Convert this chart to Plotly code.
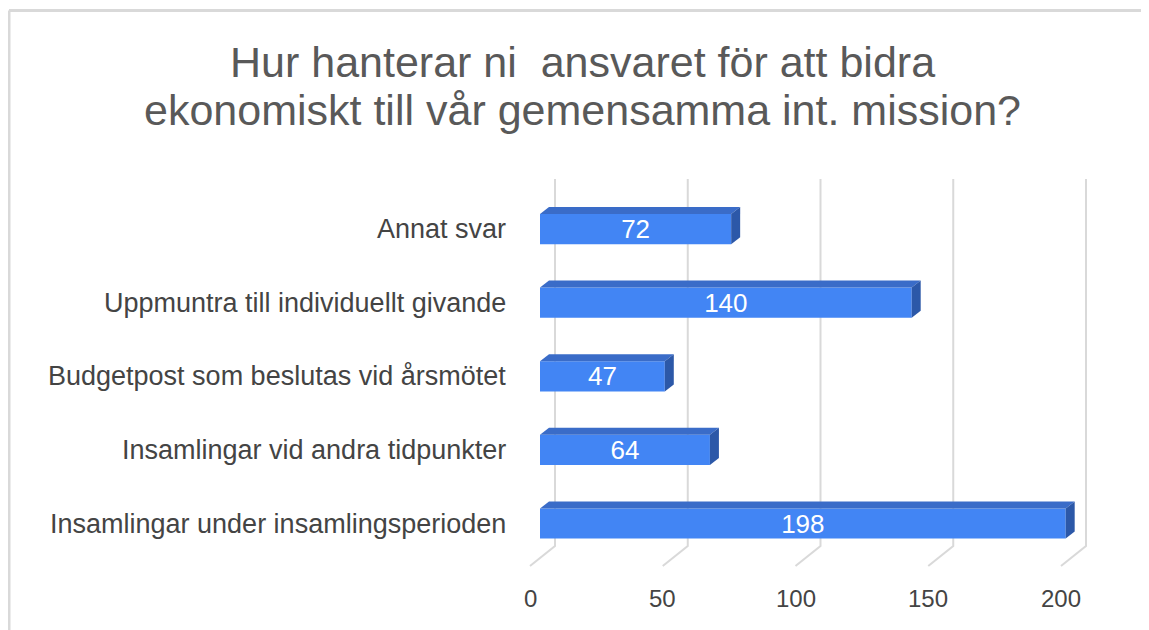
import plotly.graph_objects as go

categories = [
    "Insamlingar under insamlingsperioden",
    "Insamlingar vid andra tidpunkter",
    "Budgetpost som beslutas vid årsmötet",
    "Uppmuntra till individuellt givande",
    "Annat svar",
]
values = [198, 64, 47, 140, 72]
x_ticks = [0, 50, 100, 150, 200]
title_lines = [
    "Hur hanterar ni  ansvaret för att bidra",
    "ekonomiskt till vår gemensamma int. mission?",
]

OFF = 8  # page body margin; figure is shrunk so nothing overflows the window
W, H = 1149 - OFF, 630 - OFF

# pixel geometry of the pseudo-3D chart (figure coords)
PX0, PX_PER = 540.0 - OFF, 2.655      # bar plane: value 0
PY0, PY_PER = 523.5 - OFF, 73.6       # category 0 centre
X_LO, X_HI = -PX0 / PX_PER, (W - PX0) / PX_PER
Y_LO, Y_HI = (PY0 - H) / PY_PER, PY0 / PY_PER

BACK_DX = 15 / PX_PER
FRONT_DX = -10 / PX_PER
GRID_TOP = (PY0 - (179 - OFF)) / PY_PER
GRID_BACK = (PY0 - (546 - OFF)) / PY_PER
GRID_FRONT = (PY0 - (566 - OFF)) / PY_PER

BAR_W = 0.41
DEPTH_X = 9 / PX_PER
DEPTH_Y = 7 / PY_PER

FRONT = "#4285f4"
TOP = "#3a6cc8"
SIDE = "#2c58a8"
GRID = "#d9d9d9"
FONT = "Liberation Sans, Arial, sans-serif"


def px_x(px):
    return (px - OFF) / W


def px_y(py):
    return (H - (py - OFF)) / H


idx = list(range(len(categories)))

fig = go.Figure()

fig.add_trace(go.Bar(
    y=idx, x=values, orientation="h", width=BAR_W,
    marker=dict(color=FRONT, line=dict(width=0)),
    text=[str(v) for v in values], textposition="inside",
    insidetextanchor="middle", textangle=0, constraintext="none",
    textfont=dict(color="white", size=26, family=FONT),
    hoverinfo="skip", showlegend=False,
))

# 3D top and side faces of each bar
for i, v in zip(idx, values):
    top = i + BAR_W / 2
    bot = i - BAR_W / 2
    fig.add_trace(go.Scatter(
        x=[0, DEPTH_X, v + DEPTH_X, v, 0],
        y=[top, top + DEPTH_Y, top + DEPTH_Y, top, top],
        fill="toself", fillcolor=TOP, mode="lines",
        line=dict(width=0, color=TOP), hoverinfo="skip", showlegend=False,
    ))
    fig.add_trace(go.Scatter(
        x=[v, v + DEPTH_X, v + DEPTH_X, v, v],
        y=[top, top + DEPTH_Y, bot + DEPTH_Y, bot, top],
        fill="toself", fillcolor=SIDE, mode="lines",
        line=dict(width=0, color=SIDE), hoverinfo="skip", showlegend=False,
    ))

shapes = []
for t in x_ticks:
    shapes.append(dict(
        type="path", xref="x", yref="y", layer="below",
        path=f"M {t + BACK_DX},{GRID_TOP} L {t + BACK_DX},{GRID_BACK} L {t + FRONT_DX},{GRID_FRONT}",
        line=dict(color=GRID, width=2),
    ))
# outer frame: only top and left edges are visible in the picture
shapes.append(dict(
    type="line", xref="paper", yref="paper",
    x0=px_x(9), x1=1.0, y0=px_y(10.5), y1=px_y(10.5),
    line=dict(color=GRID, width=3),
))
shapes.append(dict(
    type="line", xref="paper", yref="paper",
    x0=px_x(9), x1=px_x(9), y0=0, y1=px_y(10.5),
    line=dict(color=GRID, width=3),
))

annotations = []
for k, line in enumerate(title_lines):
    annotations.append(dict(
        x=px_x(582), xref="paper", y=px_y(62 + 48 * k), yref="paper",
        text=line, showarrow=False, xanchor="center", yanchor="middle",
        font=dict(size=43, color="#595959", family=FONT),
    ))
for i, c in zip(idx, categories):
    annotations.append(dict(
        x=px_x(508), xref="paper", y=i, yref="y", text=c, showarrow=False,
        xanchor="right", yanchor="middle",
        font=dict(size=27, color="#444444", family=FONT),
    ))
for t in x_ticks:
    annotations.append(dict(
        x=t + FRONT_DX, xref="x", y=px_y(598), yref="paper", text=str(t),
        showarrow=False, xanchor="center", yanchor="middle",
        font=dict(size=24, color="#444444", family=FONT),
    ))

fig.update_layout(
    width=W, height=H,
    margin=dict(l=0, r=0, t=0, b=0),
    paper_bgcolor="white", plot_bgcolor="white",
    xaxis=dict(range=[X_LO, X_HI], domain=[0, 1], visible=False, fixedrange=True),
    yaxis=dict(range=[Y_LO, Y_HI], domain=[0, 1], visible=False, fixedrange=True),
    shapes=shapes,
    annotations=annotations,
    showlegend=False,
)

fig.write_html("out.html")
